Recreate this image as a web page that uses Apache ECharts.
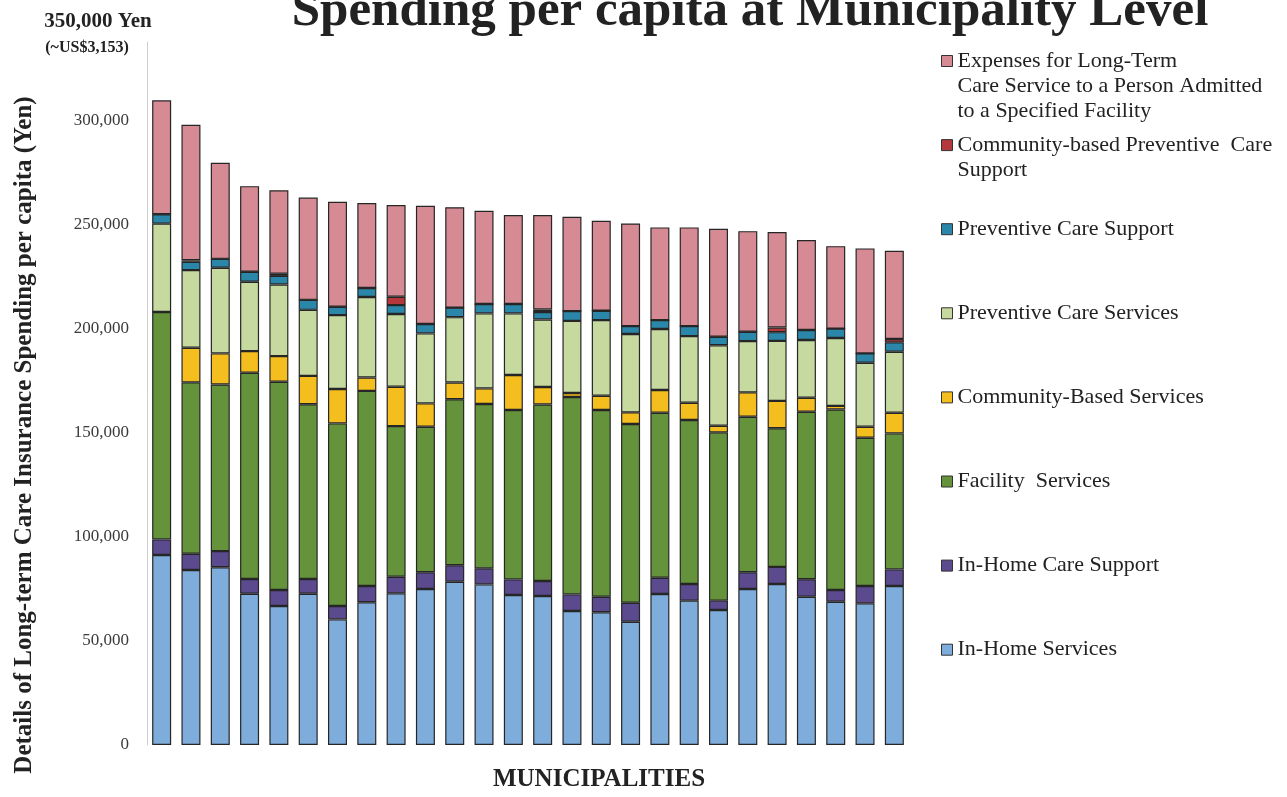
<!DOCTYPE html>
<html>
<head>
<meta charset="utf-8">
<title>Spending per capita at Municipality Level</title>
<script src="https://cdn.jsdelivr.net/npm/echarts@6/dist/echarts.min.js"></script>
<style>
  html, body { margin: 0; padding: 0; background: #fff; }
  #chart { width: 1287px; height: 797px; }
</style>
</head>
<body>
<div id="chart"></div>
<script>
// municipalities are not named in the original, just 26 bars
var categories = ['1', '2', '3', '4', '5', '6', '7', '8', '9', '10', '11', '12', '13',
  '14', '15', '16', '17', '18', '19', '20', '21', '22', '23', '24', '25', '26'];

// yen per capita, bottom of the stack first
var inHomeServices = [91200, 84000, 85300, 72600, 66700, 72600, 60300, 68500, 72800, 74900, 78400, 77100, 72000,
  71500, 64300, 63700, 59200, 72500, 69300, 64800, 74900, 77300, 71200, 68800, 68000, 76300];
var inHomeCareSupport = [7500, 7800, 7800, 7100, 7700, 7100, 6400, 7800, 8000, 8000, 7900, 7700, 7500,
  7200, 8000, 7500, 9100, 7800, 8000, 4500, 8000, 8200, 8400, 5600, 8300, 8000];
var facilityServices = [109200, 82300, 80000, 99000, 100000, 83900, 87700, 93700, 72300, 69900, 79700, 78900, 81300,
  84800, 94800, 89600, 85800, 79200, 78700, 80800, 74700, 66600, 80400, 86700, 71200, 65300];
var communityServices = [0, 16600, 14900, 10400, 12300, 13600, 16500, 6400, 18900, 11200, 8000, 7500, 16800,
  8400, 1900, 6900, 5600, 10900, 8300, 3200, 11700, 13100, 6700, 1700, 5300, 9900];
var preventiveServices = [42400, 37300, 41100, 33300, 34400, 31700, 35500, 38700, 34900, 33600, 31400, 36000, 29600,
  32400, 34600, 36300, 37600, 29300, 32000, 38600, 24600, 28800, 27700, 32600, 30700, 29300];
var preventiveSupport = [4500, 4000, 4300, 4800, 4100, 4800, 4000, 4300, 4300, 4500, 4600, 4500, 4500,
  3600, 4700, 4500, 3800, 4300, 4800, 4100, 4500, 4200, 4800, 4500, 4500, 4500];
var communityPreventiveSupport = [0, 700, 0, 0, 1100, 0, 0, 0, 4000, 0, 0, 0, 0,
  1200, 0, 0, 0, 0, 0, 0, 0, 2200, 0, 0, 0, 1600];
var specifiedFacility = [54700, 65100, 46100, 41100, 40000, 49100, 50400, 40800, 44000, 56800, 48200, 44800, 42700,
  45300, 45300, 43200, 49300, 44500, 47400, 51800, 48300, 45900, 43200, 39600, 50400, 42400];

var tickLabels = ['0', '50,000', '100,000', '150,000', '200,000', '250,000', '300,000'];

var seriesList = [
  { name: 'In-Home Services', lines: ['In-Home Services'], data: inHomeServices, color: '#7eaddc' },
  { name: 'In-Home Care Support', lines: ['In-Home Care Support'], data: inHomeCareSupport, color: '#5b4a8e' },
  { name: 'Facility  Services', lines: ['Facility  Services'], data: facilityServices, color: '#64933b' },
  { name: 'Community-Based Services', lines: ['Community-Based Services'], data: communityServices, color: '#f3be1e' },
  { name: 'Preventive Care Services', lines: ['Preventive Care Services'], data: preventiveServices, color: '#c6da9f' },
  { name: 'Preventive Care Support', lines: ['Preventive Care Support'], data: preventiveSupport, color: '#2a87a9' },
  { name: 'Community-based Preventive  Care Support',
    lines: ['Community-based Preventive  Care', 'Support'], data: communityPreventiveSupport, color: '#b3373b' },
  { name: 'Expenses for Long-Term Care Service to a Person Admitted to a Specified Facility',
    lines: ['Expenses for Long-Term', 'Care Service to a Person Admitted', 'to a Specified Facility'],
    data: specifiedFacility, color: '#d68b94' }
];

var serif = "'Liberation Serif', 'Times New Roman', serif";
var lineH = 25;

var series = seriesList.map(function (s) {
  return {
    name: s.name,
    type: 'bar',
    stack: 'total',
    barWidth: 19,
    data: s.data,
    itemStyle: { color: s.color, borderColor: '#262626', borderWidth: 1.2 },
    emphasis: { disabled: true }
  };
});

// one legend per item so the icon can sit on the first text line
var legends = seriesList.slice().reverse().map(function (s, i) {
  var n = s.lines.length;
  var pad = new Array(n).join('\n');
  var centre = 61 + 84.1 * i;
  return {
    data: [s.name],
    orient: 'vertical',
    left: 941,
    top: centre - (2 * n - 1) * lineH / 2,
    padding: 0,
    itemWidth: 11,
    itemHeight: 11,
    icon: 'rect',
    itemStyle: { borderColor: '#333', borderWidth: 1 },
    textStyle: { fontFamily: serif, fontSize: 22, color: '#222', lineHeight: lineH },
    formatter: function () { return pad + s.lines.join('\n'); }
  };
});

var chart = echarts.init(document.getElementById('chart'));
chart.setOption({
  animation: false,
  // axis line in the original starts a bit below the "350,000 Yen" note
  grid: { left: 147, right: 378, top: 42, bottom: 52 },
  legend: legends,
  xAxis: {
    type: 'category',
    data: categories,
    axisLine: { show: false },
    axisTick: { show: false },
    axisLabel: { show: false }
  },
  yAxis: {
    type: 'value',
    min: 0,
    max: 337500,
    interval: 50000,
    axisLine: { show: true, lineStyle: { color: '#cfcfcf', width: 1 } },
    axisTick: { show: false },
    splitLine: { show: false },
    axisLabel: {
      margin: 18,
      fontFamily: serif,
      fontSize: 17,
      color: '#3a3a3a',
      formatter: function (v) {
        return v % 50000 === 0 ? tickLabels[v / 50000] : '';
      }
    }
  },
  series: series,
  graphic: [
    {
      type: 'text', x: 750, y: 12,
      style: { text: 'Spending per capita at Municipality Level', font: 'bold 51px ' + serif,
        fill: '#222', textAlign: 'center', align: 'center', textVerticalAlign: 'middle', verticalAlign: 'middle' }
    },
    {
      type: 'text', x: 98, y: 22,
      style: { text: '350,000 Yen', font: 'bold 21px ' + serif,
        fill: '#222', textAlign: 'center', align: 'center', textVerticalAlign: 'middle', verticalAlign: 'middle' }
    },
    {
      type: 'text', x: 87, y: 48,
      style: { text: '(~US$3,153)', font: 'bold 16px ' + serif,
        fill: '#222', textAlign: 'center', align: 'center', textVerticalAlign: 'middle', verticalAlign: 'middle' }
    },
    {
      type: 'text', x: 25, y: 435, rotation: Math.PI / 2,
      style: { text: 'Details of Long-term Care Insurance Spending per capita (Yen)', font: 'bold 25px ' + serif,
        fill: '#222', textAlign: 'center', align: 'center', textVerticalAlign: 'middle', verticalAlign: 'middle' }
    },
    {
      type: 'text', x: 599, y: 780,
      style: { text: 'MUNICIPALITIES', font: 'bold 25px ' + serif,
        fill: '#222', textAlign: 'center', align: 'center', textVerticalAlign: 'middle', verticalAlign: 'middle' }
    }
  ]
});
window.addEventListener('resize', function () { chart.resize(); });
</script>
</body>
</html>
